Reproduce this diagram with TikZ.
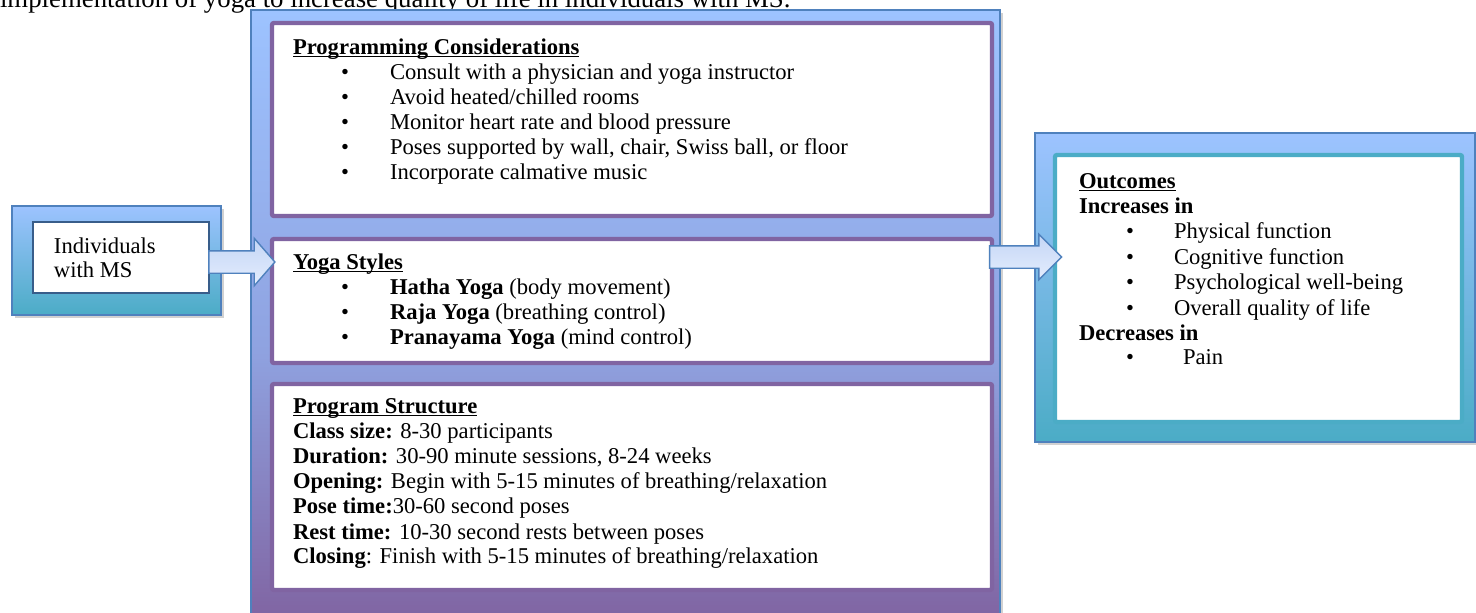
\documentclass[tikz,border=0pt]{standalone}
\usepackage{fontspec}
\setmainfont{Liberation Serif}
\usetikzlibrary{shapes.arrows,shadows}
\definecolor{clb}{RGB}{157,195,255}
\definecolor{cmid}{RGB}{143,162,224}
\definecolor{cpurp}{RGB}{128,100,162}
\definecolor{cteal}{RGB}{75,172,198}
\definecolor{cedge}{RGB}{79,129,189}
\definecolor{cinn}{RGB}{56,93,138}
\definecolor{carrtop}{RGB}{196,214,246}
\definecolor{carrbot}{RGB}{228,237,253}
\pgfdeclareverticalshading{midshade}{100bp}{color(0bp)=(cpurp); color(25bp)=(cpurp); color(47bp)=(cmid); color(75bp)=(clb); color(100bp)=(clb)}
\newcommand\tline[4]{\node[txt] (#1) at (#2,#3) {#4};}
\newcommand\bitem[5]{\node[txt] (#1) at (#2,#3) {\llap{\makebox[0pt]{\textbullet}\hspace{#4}}#5};}
\newcommand\hdg[1]{\underline{\smash{\textbf{#1}}}}
\tikzset{
  txt/.style={inner sep=0pt, outer sep=0pt, anchor=base west, font=\fontsize{11.3}{12.5}\selectfont},
  panel/.style={draw=cedge, line width=0.6pt, inner sep=0pt, outer sep=0pt, anchor=north west,
    drop shadow={shadow xshift=1.5pt, shadow yshift=-1.5pt, opacity=0.18, fill=black}},
  purplebox/.style={draw=cpurp, line width=2.2pt, fill=white, rounded corners=1pt, inner sep=0pt, outer sep=0pt, anchor=north west},
  tealbox/.style={draw=cteal, line width=2.2pt, fill=white, rounded corners=1pt, inner sep=0pt, outer sep=0pt, anchor=north west},
  barrow/.style={single arrow, draw=cedge, line width=0.7pt, top color=carrtop, bottom color=carrbot,
    single arrow head indent=0pt, inner xsep=0pt, inner ysep=5.25pt, outer sep=0pt},
}
\begin{document}
\begin{tikzpicture}[x=0.5pt,y=-0.5pt]
\useasboundingbox (0,0) rectangle (1476,612);
% caption line cut at top
\node[txt, font=\fontsize{13.4}{15}\selectfont] (cap) at (0,7) {implementation of yoga to increase quality of life in individuals with MS.};
% left box
\node[panel, top color=clb, bottom color=cteal, minimum width=104.5pt, minimum height=54.5pt] (left) at (12,206) {};
\node[draw=cinn, line width=0.6pt, fill=white, inner sep=0pt, outer sep=0pt, anchor=north west, minimum width=88pt, minimum height=35.5pt] (leftin) at (33,222) {};
\tline{l1}{54}{253}{Individuals}
\tline{l2}{54}{277}{with MS}
% middle panel
\node[panel, shading=midshade, minimum width=374.5pt, minimum height=305pt] (mid) at (251,10) {};
\node[purplebox, minimum width=360pt, minimum height=96.5pt] (b1) at (272,23) {};
\node[purplebox, minimum width=360pt, minimum height=62pt] (b2) at (272,239) {};
\node[purplebox, minimum width=360pt, minimum height=103pt] (b3) at (272,384) {};
% box 1
\tline{t1}{293}{54}{\hdg{Programming Considerations}}
\bitem{p1}{390}{79}{22.5pt}{Consult with a physician and yoga instructor}
\bitem{p2}{390}{104}{22.5pt}{Avoid heated/chilled rooms}
\bitem{p3}{390}{129}{22.5pt}{Monitor heart rate and blood pressure}
\bitem{p4}{390}{154}{22.5pt}{Poses supported by wall, chair, Swiss ball, or floor}
\bitem{p5}{390}{179}{22.5pt}{Incorporate calmative music}
% box 2
\tline{t2}{293}{269}{\hdg{Yoga Styles}}
\bitem{y1}{390}{294}{22.5pt}{\textbf{Hatha Yoga} (body movement)}
\bitem{y2}{390}{319}{22.5pt}{\textbf{Raja Yoga} (breathing control)}
\bitem{y3}{390}{344}{22.5pt}{\textbf{Pranayama Yoga} (mind control)}
% box 3
\tline{t3}{293}{413}{\hdg{Program Structure}}
\tline{s1}{293}{438}{\textbf{Class size:} 8-30 participants}
\tline{s2}{293}{463}{\textbf{Duration:} 30-90 minute sessions, 8-24 weeks}
\tline{s3}{293}{488}{\textbf{Opening:} Begin with 5-15 minutes of breathing/relaxation}
\tline{s4}{293}{513}{\textbf{Pose time:}30-60 second poses}
\tline{s5}{293}{539}{\textbf{Rest time:} 10-30 second rests between poses}
\tline{s6}{293}{563}{\textbf{Closing}: Finish with 5-15 minutes of breathing/relaxation}
% right box
\node[panel, top color=clb, bottom color=cteal, minimum width=220pt, minimum height=154.5pt] (right) at (1035,133) {};
\node[tealbox, minimum width=203.5pt, minimum height=133.5pt] (rin) at (1055,155) {};
\tline{o0}{1079}{188}{\hdg{Outcomes}}
\tline{o1}{1079}{213}{\textbf{Increases in}}
\bitem{o2}{1174}{238}{22pt}{Physical function}
\bitem{o3}{1174}{264}{22pt}{Cognitive function}
\bitem{o4}{1174}{289}{22pt}{Psychological well-being}
\bitem{o5}{1174}{315}{22pt}{Overall quality of life}
\tline{o6}{1079}{340}{\textbf{Decreases in}}
\bitem{o7}{1183}{364}{26.5pt}{Pain}
% arrows
\node[barrow, minimum height=33pt, single arrow tip angle=98, single arrow head extend=6.25pt] (a1) at (237,262) {};
\node[barrow, minimum height=36pt, single arrow tip angle=90, single arrow head extend=5.75pt] (a2) at (1020,257) {};
\end{tikzpicture}
\end{document}
